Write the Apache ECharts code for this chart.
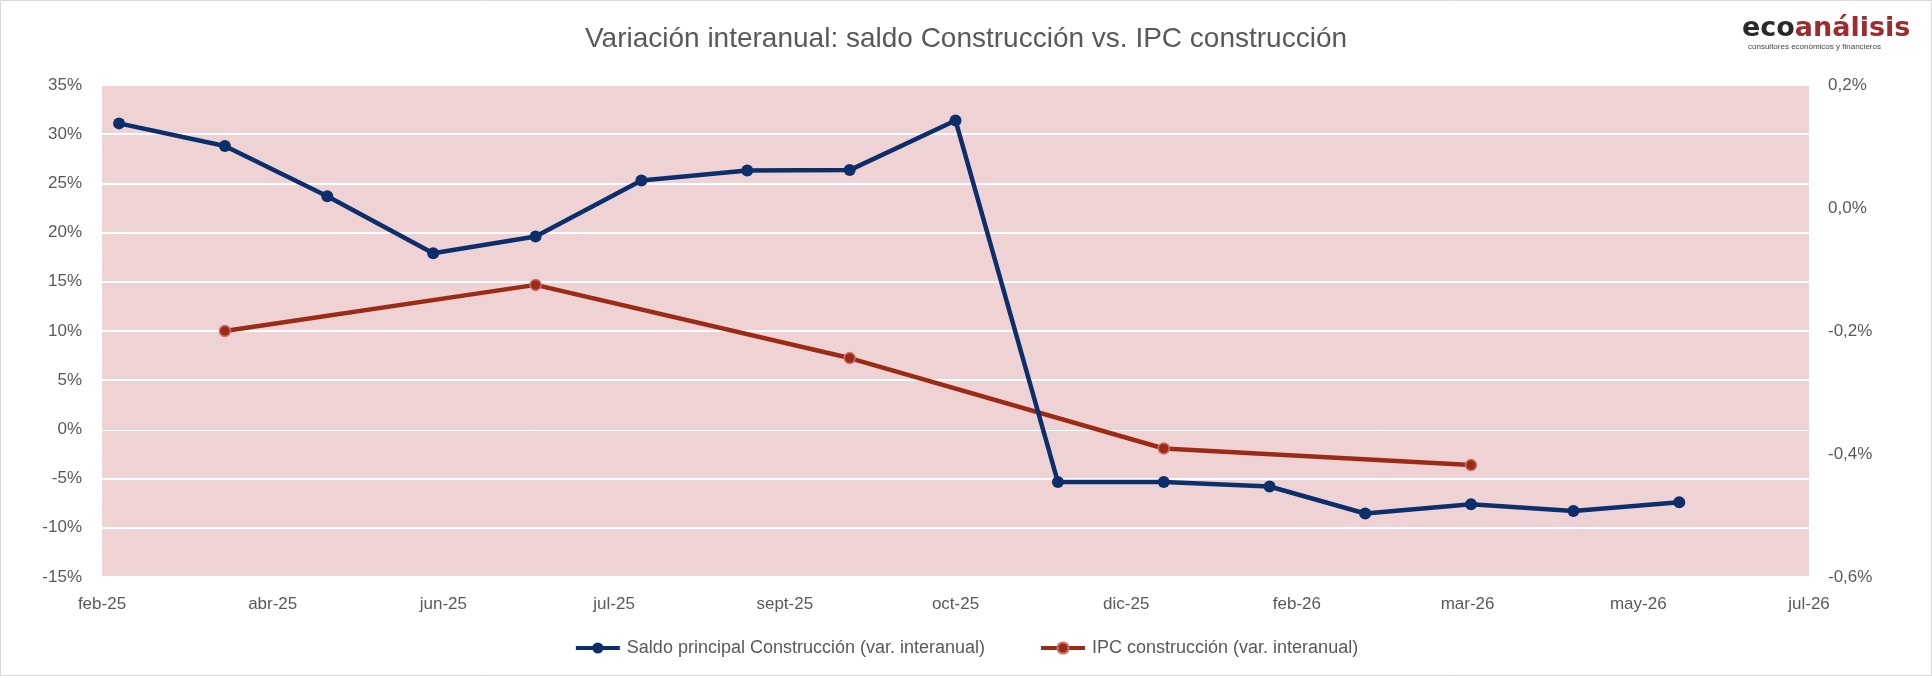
<!DOCTYPE html>
<html>
<head>
<meta charset="utf-8">
<title>Variación interanual</title>
<script src="https://cdn.jsdelivr.net/npm/echarts@6/dist/echarts.min.js"></script>
<style>
  html, body { margin: 0; padding: 0; background: #fff; }
  #grafico { width: 1932px; height: 676px; }
</style>
</head>
<body>
<div id="grafico"></div>
<script>
// datos (fin de mes)
const fechasSaldo = ['2025-02-28', '2025-03-31', '2025-04-30', '2025-05-31', '2025-06-30', '2025-07-31', '2025-08-31', '2025-09-30',
  '2025-10-31', '2025-11-30', '2025-12-31', '2026-01-31', '2026-02-28', '2026-03-31', '2026-04-30', '2026-05-31'];
const saldoConstruccion = [31.1, 28.8, 23.7, 17.9, 19.6, 25.3, 26.3, 26.35, 31.4, -5.35, -5.35, -5.8, -8.55, -7.6, -8.3, -7.4];

// IPC construccion, trimestral (eje derecho)
const fechasIpc = ['2025-03-31', '2025-06-30', '2025-09-30', '2025-12-31', '2026-03-31'];
const ipcConstruccion = [-0.2, -0.125, -0.244, -0.391, -0.418];

const etiquetasEjeX = ['feb-25', 'abr-25', 'jun-25', 'jul-25', 'sept-25', 'oct-25', 'dic-25', 'feb-26', 'mar-26', 'may-26', 'jul-26'];
const nombresSeries = ['Saldo principal Construcción (var. interanual)', 'IPC construcción (var. interanual)'];

// eje de fechas en dias, igual que en excel
const origen = Date.parse('2025-02-23');
const pasoDias = 50;
function dias(f) {
  return (Date.parse(f) - origen) / 86400000;
}

const fuente = '"Liberation Sans", Arial, sans-serif';
const gris = '#595959';

let chart = echarts.init(document.getElementById('grafico'), null, { renderer: 'canvas' });

const option = {
  backgroundColor: '#fff',
  animation: false,
  textStyle: { fontFamily: fuente },
  title: {
    text: 'Variación interanual: saldo Construcción vs. IPC construcción',
    left: 'center',
    top: 20,
    textStyle: { color: gris, fontSize: 28, fontWeight: 'normal', fontFamily: fuente }
  },
  grid: {
    left: 102,
    right: 123,
    top: 85,
    bottom: 99,
    show: true,
    backgroundColor: '#EFD3D4',
    borderWidth: 0
  },
  legend: {
    bottom: 14,
    left: 'center',
    itemWidth: 44,
    itemHeight: 14,
    itemGap: 54,
    lineStyle: { width: 4 },
    textStyle: { color: gris, fontSize: 18, fontFamily: fuente, padding: [0, 0, 0, 2] },
    data: nombresSeries
  },
  xAxis: {
    type: 'value',
    min: 0,
    max: pasoDias * (etiquetasEjeX.length - 1),
    interval: pasoDias,
    axisLine: { show: true, lineStyle: { color: '#D9D9D9', width: 1 } },
    axisTick: { show: false },
    splitLine: { show: false },
    axisLabel: {
      color: gris,
      fontSize: 17,
      margin: 19,
      formatter: function (v) {
        return etiquetasEjeX[Math.round(v / pasoDias)];
      }
    }
  },
  yAxis: [
    {
      type: 'value',
      min: -15,
      max: 35,
      interval: 5,
      axisLine: { show: false },
      axisTick: { show: false },
      splitLine: { show: true, lineStyle: { color: '#fff', width: 2 } },
      axisLabel: {
        color: gris,
        fontSize: 17,
        margin: 20,
        formatter: function (v) { return v + '%'; }
      }
    },
    {
      type: 'value',
      min: -0.6,
      max: 0.2,
      interval: 0.2,
      axisLine: { show: false },
      axisTick: { show: false },
      splitLine: { show: false },
      axisLabel: {
        color: gris,
        fontSize: 17,
        margin: 19,
        formatter: function (v) { return v.toFixed(1).replace('.', ',') + '%'; }
      }
    }
  ],
  series: [
    {
      name: nombresSeries[0],
      type: 'line',
      yAxisIndex: 0,
      data: fechasSaldo.map(function (f, i) { return [dias(f), saldoConstruccion[i]]; }),
      symbol: 'circle',
      symbolSize: 12,
      lineStyle: { color: '#0C2F6B', width: 4.5 },
      itemStyle: { color: '#0C2F6B' },
      z: 3
    },
    {
      name: nombresSeries[1],
      type: 'line',
      yAxisIndex: 1,
      data: fechasIpc.map(function (f, i) { return [dias(f), ipcConstruccion[i]]; }),
      symbol: 'circle',
      symbolSize: 11,
      lineStyle: { color: '#9B2A17', width: 4.5 },
      itemStyle: { color: '#9B2A17', borderColor: '#C9736B', borderWidth: 1.5 },
      z: 2
    }
  ],
  graphic: [
    {
      type: 'rect',
      silent: true,
      shape: { x: 0.5, y: 0.5, width: 1931, height: 675 },
      style: { fill: 'none', stroke: '#D9D9D9', lineWidth: 1 }
    },
    {
      // logo
      type: 'text',
      left: 1742,
      top: 15,
      style: {
        text: '{a|eco}{b|análisis}',
        rich: {
          a: { fontSize: 27, fontWeight: 'bold', fontFamily: '"DejaVu Sans", Arial, sans-serif', fill: '#2A2A2A' },
          b: { fontSize: 27, fontWeight: 'bold', fontFamily: '"DejaVu Sans", Arial, sans-serif', fill: '#9E2B2D' }
        }
      }
    },
    {
      type: 'text',
      left: 1748,
      top: 43,
      style: {
        text: 'consultores económicos y financieros',
        fontSize: 8,
        fontFamily: fuente,
        fill: '#444'
      }
    }
  ]
};

chart.setOption(option, true);
window.addEventListener('resize', function () {
  chart.resize();
});
</script>
</body>
</html>
